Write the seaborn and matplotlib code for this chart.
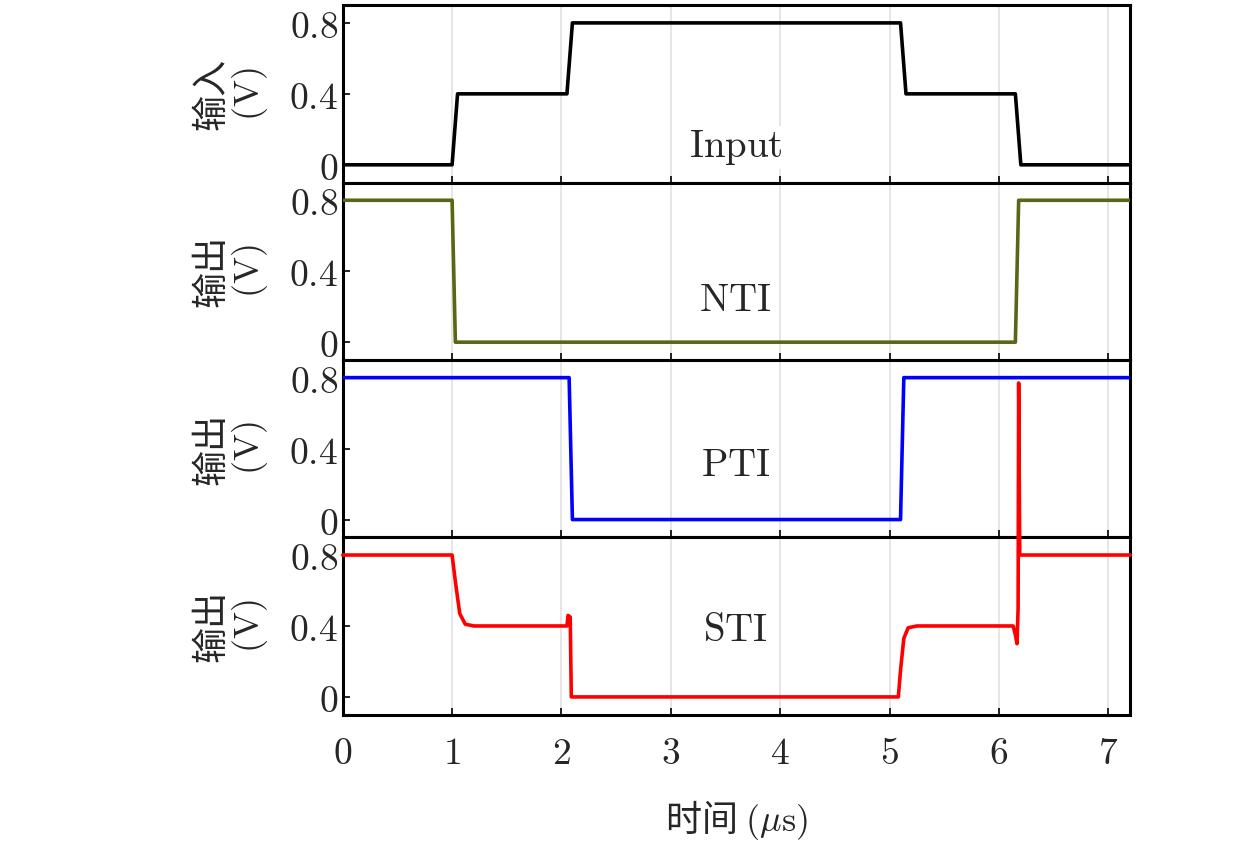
import matplotlib
matplotlib.use("Agg")
import matplotlib.pyplot as plt
import seaborn as sns
import pandas as pd

in_t = [0, 1.0, 1.05, 2.05, 2.1, 5.1, 5.15, 6.15, 6.2, 7.2]
in_v = [0, 0, 0.4, 0.4, 0.8, 0.8, 0.4, 0.4, 0, 0]
nti_t = [0, 1.0, 1.03, 6.15, 6.18, 7.2]
nti_v = [0.8, 0.8, 0, 0, 0.8, 0.8]
pti_t = [0, 2.07, 2.1, 5.1, 5.13, 7.2]
pti_v = [0.8, 0.8, 0, 0, 0.8, 0.8]
sti_t = [0, 1.0, 1.03, 1.07, 1.12, 1.2, 2.05, 2.06, 2.08, 2.09, 5.08, 5.1, 5.13, 5.17, 5.25, 6.13, 6.15, 6.165, 6.175, 6.18, 6.19, 7.2]
sti_v = [0.8, 0.8, 0.65, 0.47, 0.41, 0.4, 0.4, 0.46, 0.45, 0.0, 0.0, 0.15, 0.33, 0.39, 0.4, 0.4, 0.35, 0.3, 0.5, 1.77, 0.8, 0.8]

series = [("Input", in_t, in_v, "black", "输入", 0.1),
          ("NTI", nti_t, nti_v, "#5c6416", "输出", 0.24),
          ("PTI", pti_t, pti_v, "#0000ff", "输出", 0.31),
          ("STI", sti_t, sti_v, "#ff0000", "输出", 0.38)]
yticks = [0, 0.4, 0.8]
yticklabels = ["$0$", "$0.4$", "$0.8$"]
xticks = list(range(8))

sns.set_theme(style="white")
plt.rcParams["font.family"] = ["Noto Sans CJK SC", "DejaVu Sans"]
plt.rcParams["mathtext.fontset"] = "cm"

fig = plt.figure(figsize=(12.6, 8.6), dpi=100)
left, right, bottom, top = 0.272, 0.897, 0.169, 0.994
h = (top - bottom) / 4
for i, (name, t, v, c, ylab, ty) in enumerate(series):
    ax = fig.add_axes([left, top - (i + 1) * h, right - left, h])
    ax.set_facecolor("white")
    for xv in range(1, 8):
        ax.axvline(xv, color="#e2e2e2", lw=1.2, zorder=0)
    df = pd.DataFrame({"t": t, "v": v})
    sns.lineplot(data=df, x="t", y="v", ax=ax, color=c, lw=2.6, sort=False,
                 estimator=None, clip_on=(name != "STI"), zorder=5 if name == "STI" else 3)
    ax.set_xlim(0, 7.2)
    ax.set_ylim(-0.1, 0.9)
    ax.set_yticks(yticks)
    ax.set_yticklabels(yticklabels, fontsize=27)
    ax.set_xticks(xticks)
    ax.set_ylabel(ylab + "\n$(\\mathrm{V})$", fontsize=26, labelpad=14, linespacing=1.0)
    ax.set_xlabel("")
    ax.text(3.59, ty, "$\\mathrm{" + name + "}$", fontsize=28, ha="center", va="center",
            zorder=4, bbox=dict(facecolor="white", edgecolor="none", pad=1))
    ax.tick_params(direction="in", length=5, width=1.2, left=True, bottom=True, color="black")
    for s in ax.spines.values():
        s.set_color("black"); s.set_linewidth(2.2)
    if i < 3:
        ax.set_xticklabels([])
    else:
        ax.set_xticklabels(["$%d$" % x for x in xticks], fontsize=27)
        ax.tick_params(axis="x", pad=14)
        ax.set_xlabel("时间 $(\\mathrm{\\mu s})$", fontsize=26, labelpad=18)

fig.savefig("out.png", dpi=100)
